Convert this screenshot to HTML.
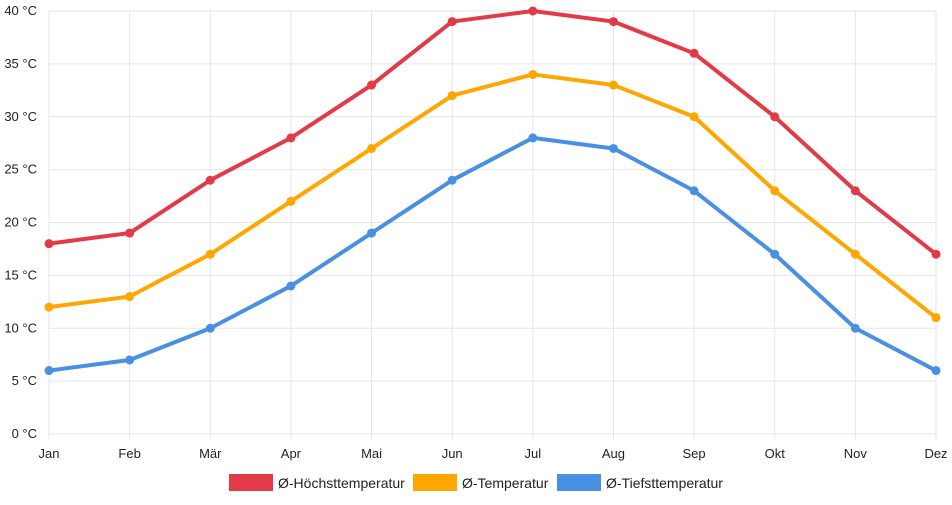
<!DOCTYPE html>
<html><head><meta charset="utf-8">
<style>
body{margin:0;background:#fff;font-family:"Liberation Sans",sans-serif;}
svg text{font-family:"Liberation Sans",sans-serif;font-size:13px;fill:#222;}
svg #legend text{font-size:14px;}
</style></head>
<body>
<svg id="chart" width="952" height="500" xmlns="http://www.w3.org/2000/svg">
<g id="grid"></g>
<g id="axes"></g>
<g id="series"></g>
<g id="legend"></g>
</svg>
<script>
const months=["Jan","Feb","Mär","Apr","Mai","Jun","Jul","Aug","Sep","Okt","Nov","Dez"];
const highs=[18,19,24,28,33,39,40,39,36,30,23,17];
const means=[12,13,17,22,27,32,34,33,30,23,17,11];
const lows=[6,7,10,14,19,24,28,27,23,17,10,6];
const yTicks=[0,5,10,15,20,25,30,35,40];
const seriesNames=["Ø-Höchsttemperatur","Ø-Temperatur","Ø-Tiefsttemperatur"];
const NS="http://www.w3.org/2000/svg";
const x0=49,x1=936,yBase=434,yTop=11,yMax=40;
function xs(i){return x0+i*(x1-x0)/(months.length-1);}
function ys(v){return yBase-v*(yBase-yTop)/yMax;}
function mk(tag,attrs,parent){const e=document.createElementNS(NS,tag);for(const k in attrs)e.setAttribute(k,attrs[k]);parent.appendChild(e);return e;}
const grid=document.getElementById('grid'),axes=document.getElementById('axes'),ser=document.getElementById('series'),leg=document.getElementById('legend');
yTicks.forEach(t=>{
  const l=mk('line',{x1:x0,x2:x1,y1:ys(t),y2:ys(t),stroke:'#e6e6e6','stroke-width':1},grid);
  
  
  const tx=mk('text',{x:37,y:ys(t)+4,'text-anchor':'end'},axes);
  tx.textContent=t+' °C';
  
  
});
months.forEach((m,i)=>{
  const l=mk('line',{x1:xs(i),x2:xs(i),y1:yTop,y2:yBase+6,stroke:'#e6e6e6','stroke-width':1},grid);
  
  
  const tx=mk('text',{x:xs(i),y:458,'text-anchor':'middle'},axes);
  tx.textContent=m;
  
  
});
const datasets=[highs,means,lows],colors=["#e23a47","#ffa600","#4a90e2"],keys=["high","mean","low"];
datasets.forEach((d,s)=>{
  const p=mk('polyline',{points:d.map((v,i)=>xs(i)+','+ys(v)).join(' '),fill:'none',stroke:colors[s],'stroke-width':4,'stroke-linejoin':'round'},ser);
  
  
  d.forEach((v,i)=>{
    const c=mk('circle',{cx:xs(i),cy:ys(v),r:4.5,fill:colors[s]},ser);
    
    
  });
});
const lx=[229,413,557];
seriesNames.forEach((n,s)=>{
  const r=mk('rect',{x:lx[s],y:474,width:44,height:17,fill:colors[s]},leg);
  
  
  const t=mk('text',{x:lx[s]+49,y:488},leg);
  t.textContent=n;
  
  
});
</script>
</body></html>
